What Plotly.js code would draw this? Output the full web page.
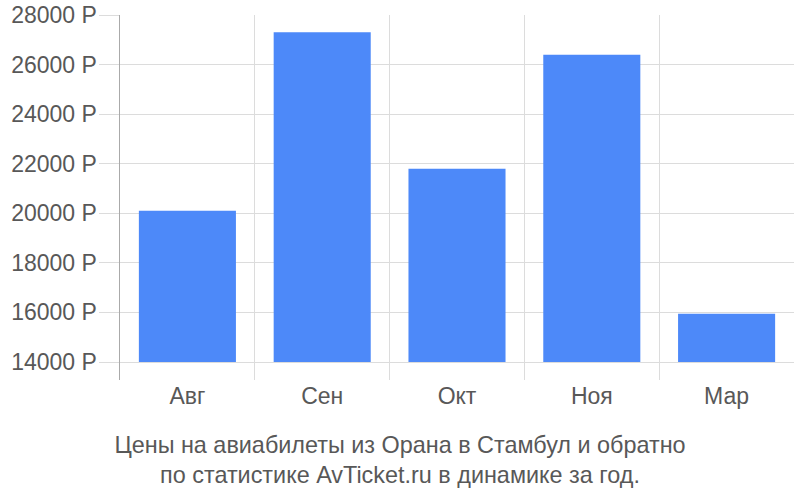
<!DOCTYPE html>
<html><head><meta charset="utf-8">
<script src="https://cdn.plot.ly/plotly-3.0.1.min.js"></script>
<style>body{margin:0}#c{width:800px;height:500px}</style>
</head><body><div id="c"></div>
<script>
const months = ["Авг","Сен","Окт","Ноя","Мар"];
const prices = [20100, 27300, 21800, 26400, 15950];
const yTicks = [14000,16000,18000,20000,22000,24000,26000,28000];
const baseVal = 14000;
const titleLines = ["Цены на авиабилеты из Орана в Стамбул и обратно","по статистике AvTicket.ru в динамике за год."];

const trace = {
  type: "bar",
  x: months,
  y: prices.map(v => v - baseVal),
  base: baseVal,
  marker: {color: "#4d89f9"},
  hoverinfo: "skip"
};
const layout = {
  width: 800, height: 500,
  margin: {l: 120, r: 6, t: 15, b: 120},
  paper_bgcolor: "#fff", plot_bgcolor: "#fff",
  bargap: 0.28,
  font: {family: "Liberation Sans, Arial, sans-serif", size: 23, color: "#555"},
  showlegend: false,
  title: {
    text: titleLines.join("<br>"),
    font: {size: 23.4, color: "#585858"},
    xref: "container", x: 0.5, xanchor: "center",
    yref: "container", y: 0.094, yanchor: "middle"
  },
  xaxis: {
    type: "category",
    tickson: "boundaries",
    showgrid: true, gridcolor: "#dcdcdc", gridwidth: 1,
    ticks: "", showline: false, zeroline: false,
    tickfont: {size: 23, color: "#585858"}
  },
  yaxis: {
    range: [13274, 28000],
    tickvals: yTicks,
    ticktext: yTicks.map(v => v + " Р"),
    showgrid: true, gridcolor: "#dcdcdc", gridwidth: 1,
    ticks: "outside", ticklen: 20, tickcolor: "#dcdcdc", tickwidth: 1,
    ticklabelstandoff: -3,
    showline: true, linecolor: "#aaa", linewidth: 1.5,
    zeroline: false,
    tickfont: {size: 23, color: "#585858"}
  }
};
Plotly.newPlot("c", [trace], layout, {displayModeBar: false, staticPlot: true});
</script>
</body></html>
